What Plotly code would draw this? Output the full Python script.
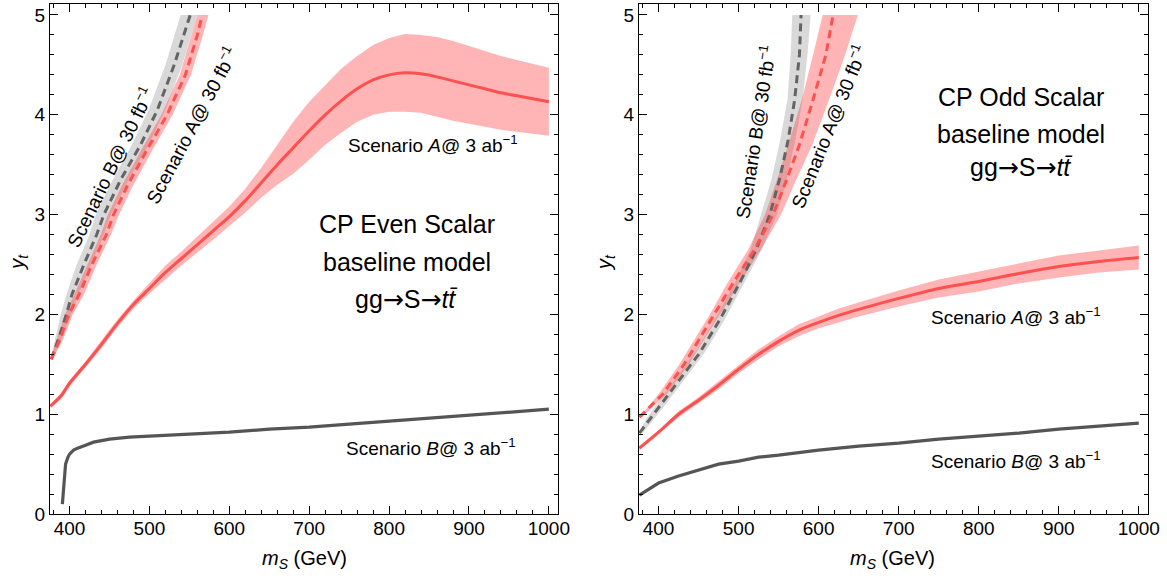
import plotly.graph_objects as go

# ---------------- data ----------------
# Left panel: CP even scalar
L_A3_x = [376, 390, 400, 420, 440, 460, 480, 500, 520, 540, 560, 580, 600, 620, 640, 660, 680, 700,
          720, 740, 760, 780, 800, 820, 840, 860, 880, 900, 920, 940, 960, 980, 1000]
L_A3_y = [1.08, 1.19, 1.31, 1.50, 1.70, 1.91, 2.10, 2.26, 2.42, 2.56, 2.70, 2.84, 2.98, 3.14, 3.32, 3.50,
          3.67, 3.84, 4.00, 4.14, 4.26, 4.35, 4.40, 4.42, 4.41, 4.38, 4.34, 4.30, 4.26, 4.22, 4.19, 4.16, 4.13]
L_A3_err = [0.02, 0.03, 0.03, 0.03, 0.04, 0.04, 0.04, 0.05, 0.07, 0.07, 0.08, 0.09, 0.10, 0.12, 0.15, 0.20,
            0.26, 0.29, 0.30, 0.32, 0.33, 0.35, 0.37, 0.39, 0.39, 0.40, 0.40, 0.39, 0.38, 0.37, 0.36, 0.35, 0.34]

L_B3_x = [391, 393, 395, 398, 400, 405, 410, 420, 430, 450, 475, 500, 550, 600, 650, 700, 750, 800,
          850, 900, 950, 1000]
L_B3_y = [0.10, 0.35, 0.50, 0.57, 0.60, 0.64, 0.66, 0.69, 0.72, 0.75, 0.77, 0.78, 0.80, 0.82, 0.85, 0.87,
          0.90, 0.93, 0.96, 0.99, 1.02, 1.05]

L_B30_y = [1.55, 1.75, 2.0, 2.2, 2.5, 2.8, 3.0, 3.35, 3.7, 4.05, 4.5, 5.0]
L_B30_x = [377, 386, 396, 403, 418, 434, 443, 464, 489, 510, 531, 551]
L_B30_xlo = [376, 382, 389, 396, 409, 425, 433, 454, 478, 499, 520, 539]
L_B30_xhi = [378, 390, 402, 411, 427, 443, 452, 474, 499, 520, 541, 560]

L_A30_y = [1.55, 1.75, 2.0, 2.2, 2.5, 2.8, 3.0, 3.3, 3.65, 4.0, 4.4, 4.8, 5.0]
L_A30_x = [377, 388, 399, 412, 428, 446, 455, 473, 497, 522, 545, 560, 566]
L_A30_xlo = [376, 384, 394, 406, 422, 439, 448, 466, 490, 515, 538, 553, 560]
L_A30_xhi = [379, 392, 404, 418, 434, 452, 462, 480, 504, 529, 552, 567, 574]

# Right panel: CP odd scalar
R_A3_x = [376, 400, 425, 450, 475, 500, 525, 550, 575, 600, 625, 650, 700, 750, 800, 850, 900, 950, 1000]
R_A3_y = [0.66, 0.82, 1.00, 1.14, 1.29, 1.45, 1.60, 1.73, 1.84, 1.92, 1.99, 2.05, 2.16, 2.26, 2.33, 2.41,
          2.48, 2.53, 2.57]
R_A3_err = [0.02, 0.02, 0.03, 0.03, 0.04, 0.04, 0.05, 0.05, 0.06, 0.06, 0.07, 0.07, 0.08, 0.09, 0.10, 0.10,
            0.11, 0.11, 0.12]

R_B3_x = [376, 390, 400, 425, 450, 475, 500, 525, 550, 600, 650, 700, 750, 800, 850, 900, 950, 1000]
R_B3_y = [0.19, 0.26, 0.31, 0.38, 0.44, 0.50, 0.53, 0.57, 0.59, 0.64, 0.68, 0.71, 0.75, 0.78, 0.81, 0.85,
          0.88, 0.91]

R_B30_y = [0.81, 0.95, 1.08, 1.34, 1.61, 1.94, 2.31, 2.65, 3.0, 3.35, 3.75, 4.15, 4.6, 5.0]
R_B30_x = [376, 389, 401, 426, 451, 476, 501, 522, 539, 551, 562, 570, 576, 578]
R_B30_xlo = [376, 384, 396, 420, 445, 470, 495, 515, 528, 541, 552, 561, 565, 567]
R_B30_xhi = [380, 394, 407, 432, 457, 482, 507, 529, 548, 560, 571, 580, 586, 590]

R_A30_y = [0.97, 1.2, 1.5, 1.75, 2.0, 2.3, 2.65, 3.0, 3.35, 3.7, 4.15, 4.6, 5.0]
R_A30_x = [376, 405, 432, 451, 470, 492, 520, 543, 560, 576, 593, 609, 618]
R_A30_xlo = [376, 400, 426, 445, 464, 485, 512, 533, 548, 562, 579, 593, 605]
R_A30_xhi = [379, 410, 438, 457, 476, 500, 528, 553, 572, 592, 613, 633, 649]

X_TICKS = [400, 500, 600, 700, 800, 900, 1000]
Y_TICKS = [0, 1, 2, 3, 4, 5]

# ---------------- styles ----------------
RED_LINE = "rgb(255,80,80)"
RED_BAND = "rgba(255,60,60,0.38)"
GRAY_LINE = "rgb(85,85,85)"
GRAY_DASH = "rgb(100,100,100)"
GRAY_BAND = "rgba(0,0,0,0.15)"
FONT = "Liberation Sans, Arial, sans-serif"
ARROW = "<span style=\"font-family:'DejaVu Sans'\">→</span>"

fig = go.Figure()


def band_xy(xlo, xhi, ys):
    return list(xlo) + list(xhi)[::-1], list(ys) + list(ys)[::-1]


def band_err(xs, ys, err):
    lo = [y - e for y, e in zip(ys, err)]
    hi = [y + e for y, e in zip(ys, err)]
    return list(xs) + list(xs)[::-1], hi + lo[::-1]


def add_panel(xa, ya, A3x, A3y, A3e, B3x, B3y, B30, A30):
    bx, by = band_xy(B30[2], B30[3], B30[0])
    fig.add_trace(go.Scatter(x=bx, y=by, fill="toself", fillcolor=GRAY_BAND, line=dict(width=0),
                             mode="lines", xaxis=xa, yaxis=ya, hoverinfo="skip", showlegend=False))
    bx, by = band_xy(A30[2], A30[3], A30[0])
    fig.add_trace(go.Scatter(x=bx, y=by, fill="toself", fillcolor=RED_BAND, line=dict(width=0),
                             mode="lines", xaxis=xa, yaxis=ya, hoverinfo="skip", showlegend=False))
    bx, by = band_err(A3x, A3y, A3e)
    fig.add_trace(go.Scatter(x=bx, y=by, fill="toself", fillcolor=RED_BAND, line=dict(width=0),
                             mode="lines", xaxis=xa, yaxis=ya, hoverinfo="skip", showlegend=False))
    fig.add_trace(go.Scatter(x=B3x, y=B3y, mode="lines", line=dict(color=GRAY_LINE, width=3.2),
                             xaxis=xa, yaxis=ya, showlegend=False))
    fig.add_trace(go.Scatter(x=A3x, y=A3y, mode="lines", line=dict(color=RED_LINE, width=3, shape="spline",
                                                                   smoothing=0.8),
                             xaxis=xa, yaxis=ya, showlegend=False))
    fig.add_trace(go.Scatter(x=B30[1], y=B30[0], mode="lines",
                             line=dict(color=GRAY_DASH, width=3, dash="8px,5px"),
                             xaxis=xa, yaxis=ya, showlegend=False))
    fig.add_trace(go.Scatter(x=A30[1], y=A30[0], mode="lines",
                             line=dict(color=RED_LINE, width=3, dash="8px,5px"),
                             xaxis=xa, yaxis=ya, showlegend=False))


add_panel("x", "y", L_A3_x, L_A3_y, L_A3_err, L_B3_x, L_B3_y,
          (L_B30_y, L_B30_x, L_B30_xlo, L_B30_xhi), (L_A30_y, L_A30_x, L_A30_xlo, L_A30_xhi))
add_panel("x2", "y2", R_A3_x, R_A3_y, R_A3_err, R_B3_x, R_B3_y,
          (R_B30_y, R_B30_x, R_B30_xlo, R_B30_xhi), (R_A30_y, R_A30_x, R_A30_xlo, R_A30_xhi))

axis_common = dict(showgrid=False, zeroline=False, showline=True, mirror="allticks", linecolor="black",
                   linewidth=1, ticks="inside", ticklen=8, tickwidth=1, tickcolor="black", automargin=False,
                   tickfont=dict(family=FONT, size=19, color="black"))
xminor = dict(ticks="inside", dtick=20, ticklen=4, tickwidth=1, tickcolor="black", showgrid=False)
yminor = dict(ticks="inside", dtick=0.2, ticklen=4, tickwidth=1, tickcolor="black", showgrid=False)

fig.update_layout(
    width=1167, height=582, plot_bgcolor="white", paper_bgcolor="white",
    margin=dict(l=50, r=19, t=4, b=68),
    xaxis=dict(domain=[0, 0.4627], range=[375.5, 1011.5], tickvals=X_TICKS, minor=xminor, anchor="y",
               ticklabelstandoff=-3, **axis_common),
    yaxis=dict(domain=[0, 1], range=[0, 5.11], tickvals=Y_TICKS, minor=yminor, anchor="x", **axis_common),
    xaxis2=dict(domain=[0.5364, 1], range=[375.5, 1011.5], tickvals=X_TICKS, minor=xminor, anchor="y2",
                ticklabelstandoff=-3, **axis_common),
    yaxis2=dict(domain=[0, 1], range=[0, 5.11], tickvals=Y_TICKS, minor=yminor, anchor="x2", **axis_common),
)

ann = []
lab = dict(family=FONT, size=19, color="black")
rot = dict(family=FONT, size=19, color="black")
big = dict(family=FONT, size=25, color="black")


def A(x, y, text, xr, yr, font, angle=0):
    ann.append(dict(x=x, y=y, xref=xr, yref=yr, text=text, showarrow=False, font=font, textangle=angle,
                    xanchor="center", yanchor="middle"))


# left panel
A(450, 3.48, "Scenario B@ 30 fb<sup>−1</sup>", "x", "y", rot, -64)
A(552, 3.90, "Scenario A@ 30 fb<sup>−1</sup>", "x", "y", rot, -62)
A(855, 3.71, "Scenario <i>A</i>@ 3 ab<sup>−1</sup>", "x", "y", lab)
A(853, 0.67, "Scenario <i>B</i>@ 3 ab<sup>−1</sup>", "x", "y", lab)
A(822, 2.91, "CP Even Scalar", "x", "y", big)
A(822, 2.53, "baseline model", "x", "y", big)
A(822, 2.15, "gg" + ARROW + "S" + ARROW + "<i>tt̄</i>", "x", "y", big)
# right panel
A(520, 3.83, "Scenario B@ 30 fb<sup>−1</sup>", "x2", "y2", rot, -81)
A(612, 3.89, "Scenario A@ 30 fb<sup>−1</sup>", "x2", "y2", rot, -68)
A(847, 1.98, "Scenario <i>A</i>@ 3 ab<sup>−1</sup>", "x2", "y2", lab)
A(847, 0.54, "Scenario <i>B</i>@ 3 ab<sup>−1</sup>", "x2", "y2", lab)
A(853, 4.18, "CP Odd Scalar", "x2", "y2", big)
A(853, 3.81, "baseline model", "x2", "y2", big)
A(853, 3.47, "gg" + ARROW + "S" + ARROW + "<i>tt̄</i>", "x2", "y2", big)
# axis titles
axt = dict(family=FONT, size=20, color="black")
A(-0.029, 2.52, "<i>y<sub>t</sub></i>", "paper", "y", axt, -90)
A(0.506, 2.52, "<i>y<sub>t</sub></i>", "paper", "y2", axt, -90)
A(694, -0.090, "<i>m<sub>S</sub></i> (GeV)", "x", "paper", axt)
A(692, -0.090, "<i>m<sub>S</sub></i> (GeV)", "x2", "paper", axt)

fig.update_layout(annotations=ann)
fig.write_html("out.html", config={"displayModeBar": False},
               post_script="document.body.style.margin='0';document.body.style.padding='0';"
                           "window.dispatchEvent(new Event('resize'));")
